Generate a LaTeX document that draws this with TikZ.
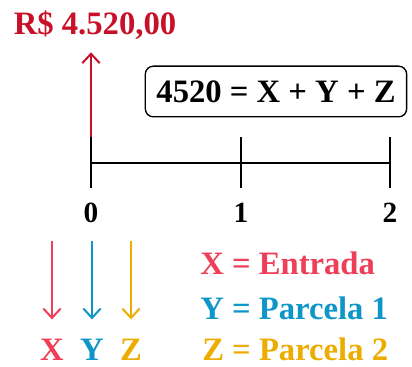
\documentclass[tikz,border=0pt]{standalone}
\usepackage{fontspec}
\setmainfont{Liberation Serif}
\usetikzlibrary{arrows.meta}

\definecolor{valred}{RGB}{200,16,40}
\definecolor{xred}{RGB}{238,62,88}
\definecolor{yblue}{RGB}{14,150,200}
\definecolor{zgold}{RGB}{236,172,0}

\begin{document}
\begin{tikzpicture}[
  x=0.75pt, y=-0.75pt,
  >={Straight Barb[length=7pt,width=13pt]},
  txt/.style={font=\fontsize{24.5}{28}\selectfont\bfseries, inner sep=0pt, anchor=base},
  numlbl/.style={font=\fontsize{22}{26}\selectfont\bfseries, inner sep=0pt, anchor=base},
  tick/.style={line width=2.2pt},
  flow/.style={->, line width=1.5pt, #1},
  flow/.default=black,
  eqbox/.style={draw, line width=1pt, rounded corners=6pt,
    minimum width=196pt, minimum height=38pt, inner sep=0pt,
    font=\fontsize{24.5}{28}\selectfont\bfseries},
]
\useasboundingbox (0,0) rectangle (412,367);

% --- Time axis ---
\coordinate (p0) at (91,163);
\coordinate (p1) at (241,163);
\coordinate (p2) at (390,163);
\draw[tick] (p0) -- (p2);
\foreach \p in {p0,p1,p2}
  \draw[tick] ([yshift=19.5pt]\p) -- ([yshift=-18.75pt]\p);

\node[numlbl] (n0) at (91,223) {0};
\node[numlbl] (n1) at (241,223) {1};
\node[numlbl] (n2) at (390,223) {2};

% --- Value at time 0 ---
\node[txt, text=valred] (valor) at (95,35) {R\$ 4.520,00};
\coordinate (p0top) at (91,137);
\draw[flow=valred, shorten >=9pt] (p0top) -- (p0top |- valor.south);

% --- Equation ---
\node[eqbox] (eq) at (276,91.5) {4520 = X + Y + Z};

% --- Payments ---
\foreach \n/\col/\x in {X/xred/52, Y/yblue/92, Z/zgold/131} {
  \coordinate (s\n) at (\x,241);
  \node[txt, text=\col] (l\n) at (\x,361) {\n};
  \draw[flow=\col, shorten >=15pt] (s\n) -- (l\n.north);
}

% Legend
\node[txt, anchor=base west, text=xred] (legX) at (200,275) {X = Entrada};
\node[txt, anchor=base west, text=yblue] (legY) at (200,320) {Y = Parcela 1};
\node[txt, anchor=base west, text=zgold] (legZ) at (202,361) {Z = Parcela 2};

\end{tikzpicture}
\end{document}
